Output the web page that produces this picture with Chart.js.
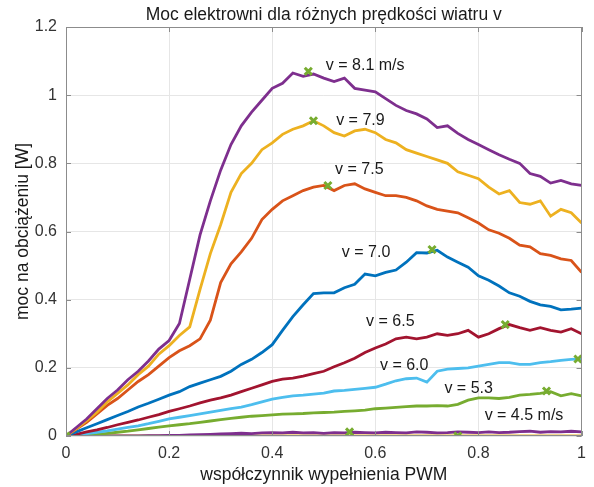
<!DOCTYPE html>
<html><head><meta charset="utf-8">
<script src="https://cdn.jsdelivr.net/npm/chart.js@4"></script>
<style>html,body{margin:0;padding:0;background:#fff}</style>
</head><body>
<canvas id="c" width="594" height="487"></canvas>
<script>
const pwm = [0,0.02,0.04,0.06,0.08,0.10,0.12,0.14,0.16,0.18,0.20,0.22,0.24,0.26,0.28,0.30,0.32,0.34,0.36,0.38,0.40,0.42,0.44,0.46,0.48,0.50,0.52,0.54,0.56,0.58,0.60,0.62,0.64,0.66,0.68,0.70,0.72,0.74,0.76,0.78,0.80,0.82,0.84,0.86,0.88,0.90,0.92,0.94,0.96,0.98,1.00];

const v81 = [0,0.025,0.05,0.08,0.11,0.135,0.165,0.19,0.22,0.255,0.28,0.33,0.46,0.59,0.69,0.78,0.855,0.91,0.95,0.985,1.02,1.035,1.065,1.055,1.062,1.05,1.04,1.05,1.02,1.015,1.01,0.99,0.97,0.955,0.945,0.93,0.905,0.91,0.888,0.87,0.855,0.84,0.825,0.812,0.80,0.77,0.762,0.742,0.75,0.74,0.735];
const v79 = [0,0.022,0.045,0.07,0.10,0.125,0.15,0.18,0.205,0.24,0.265,0.295,0.32,0.43,0.535,0.62,0.715,0.77,0.80,0.84,0.86,0.885,0.90,0.91,0.925,0.91,0.89,0.88,0.895,0.90,0.89,0.87,0.86,0.84,0.83,0.82,0.81,0.80,0.775,0.765,0.755,0.73,0.71,0.72,0.685,0.68,0.69,0.645,0.665,0.655,0.625];
const v75 = [0,0.02,0.04,0.065,0.09,0.11,0.135,0.16,0.18,0.205,0.23,0.25,0.265,0.285,0.34,0.45,0.505,0.54,0.58,0.635,0.665,0.69,0.705,0.72,0.73,0.735,0.72,0.735,0.74,0.725,0.715,0.705,0.705,0.70,0.69,0.675,0.665,0.66,0.655,0.64,0.625,0.605,0.595,0.58,0.56,0.555,0.535,0.53,0.52,0.515,0.48];
const v70 = [0,0.012,0.024,0.036,0.048,0.06,0.072,0.085,0.096,0.108,0.12,0.13,0.145,0.155,0.165,0.175,0.19,0.21,0.225,0.245,0.268,0.31,0.35,0.385,0.418,0.42,0.42,0.435,0.445,0.475,0.47,0.48,0.487,0.51,0.538,0.537,0.545,0.525,0.51,0.495,0.47,0.457,0.44,0.42,0.41,0.395,0.385,0.38,0.37,0.372,0.375];
const v65 = [0,0.005,0.012,0.018,0.025,0.033,0.04,0.047,0.055,0.063,0.072,0.08,0.088,0.097,0.105,0.112,0.12,0.13,0.14,0.15,0.16,0.167,0.17,0.176,0.183,0.19,0.203,0.215,0.228,0.245,0.258,0.27,0.285,0.29,0.285,0.29,0.30,0.295,0.30,0.31,0.29,0.30,0.315,0.327,0.318,0.31,0.318,0.31,0.305,0.315,0.30];
const v60 = [0,0.003,0.007,0.011,0.015,0.02,0.025,0.03,0.036,0.043,0.05,0.055,0.06,0.065,0.07,0.075,0.08,0.085,0.092,0.10,0.108,0.113,0.118,0.12,0.123,0.126,0.132,0.134,0.137,0.14,0.143,0.152,0.162,0.168,0.17,0.158,0.19,0.196,0.198,0.20,0.205,0.21,0.215,0.215,0.21,0.21,0.215,0.218,0.222,0.225,0.226];
const v53 = [0,0.001,0.003,0.005,0.008,0.011,0.014,0.018,0.022,0.026,0.03,0.033,0.036,0.04,0.044,0.048,0.052,0.055,0.058,0.06,0.062,0.064,0.065,0.066,0.068,0.069,0.07,0.072,0.074,0.076,0.08,0.082,0.084,0.086,0.088,0.088,0.089,0.088,0.093,0.105,0.112,0.112,0.11,0.113,0.12,0.122,0.125,0.13,0.118,0.124,0.118];
const v45 = [0,0,0,0,0,0,0,0,0.001,0.001,0.002,0.002,0.003,0.004,0.005,0.006,0.007,0.008,0.007,0.009,0.01,0.009,0.011,0.009,0.01,0.008,0.01,0.009,0.011,0.01,0.009,0.011,0.01,0.009,0.012,0.011,0.009,0.01,0.012,0.011,0.01,0.012,0.01,0.011,0.013,0.014,0.011,0.013,0.012,0.014,0.012];
const v40 = [0,0,0,0,0,0,0,0,0,0,0,0,0,0,0,0,0,0,0,0,0,0,0,0,0,0,0,0,0,0,0,0,0,0,0,0,0,0,0,0,0,0,0,0,0,0,0,0,0,0,0];

const maxX = [0,0.76,0.55,0.932,0.993,0.852,0.71,0.508,0.48,0.47];
const maxY = [0,0,0.012,0.132,0.226,0.327,0.547,0.735,0.925,1.07];

const labelText = ['v = 8.1 m/s','v = 7.9','v = 7.5','v = 7.0','v = 6.5','v = 6.0','v = 5.3','v = 4.5 m/s'];
const labelX = [0.504,0.524,0.522,0.535,0.582,0.609,0.734,0.812];
const labelY = [1.088,0.926,0.782,0.538,0.335,0.206,0.138,0.059];

const xTickLabels = ['0','0.2','0.4','0.6','0.8','1'];
const yTickLabels = ['0','0.2','0.4','0.6','0.8','1','1.2'];

const FONT = '"Liberation Sans", Arial, sans-serif';
const series = [
  {d:v40, c:'#EDB120'},
  {d:v45, c:'#7E2F8E'},
  {d:v53, c:'#77AC30'},
  {d:v60, c:'#4DBEEE'},
  {d:v65, c:'#A2142F'},
  {d:v70, c:'#0072BD'},
  {d:v75, c:'#D95319'},
  {d:v79, c:'#EDB120'},
  {d:v81, c:'#7E2F8E'}
];

const datasets = [{
  type:'scatter',
  data: maxX.map((x,i)=>({x:x,y:maxY[i]})),
  pointStyle:'crossRot', pointRadius:5, borderColor:'#77AC30', backgroundColor:'#77AC30', borderWidth:3, showLine:false
}];
series.slice().reverse().forEach(s=>{
  datasets.push({type:'line', data: pwm.map((x,i)=>({x:x,y:s.d[i]})), borderColor:s.c, borderWidth:2.8, pointRadius:0, tension:0, fill:false});
});

const frame = {
  id:'frame',
  afterDatasetsDraw(chart){
    const {ctx, chartArea:a, scales:{x,y}} = chart;
    ctx.save();
    ctx.strokeStyle='#8c8c8c'; ctx.lineWidth=1;
    ctx.strokeRect(Math.round(a.left)+0.5, Math.round(a.top)+0.5, Math.round(a.right-a.left)-1, Math.round(a.bottom-a.top)-1);
    ctx.beginPath();
    x.ticks.forEach(t=>{const p=Math.round(x.getPixelForValue(t.value))+0.5; ctx.moveTo(p,a.bottom); ctx.lineTo(p,a.bottom-5); ctx.moveTo(p,a.top); ctx.lineTo(p,a.top+5);});
    y.ticks.forEach(t=>{const p=Math.round(y.getPixelForValue(t.value))+0.5; ctx.moveTo(a.left,p); ctx.lineTo(a.left+5,p); ctx.moveTo(a.right,p); ctx.lineTo(a.right-5,p);});
    ctx.stroke();
    ctx.fillStyle='#1a1a1a'; ctx.font='16px '+FONT; ctx.textBaseline='middle'; ctx.textAlign='left';
    labelText.forEach((t,i)=>ctx.fillText(t, x.getPixelForValue(labelX[i]), y.getPixelForValue(labelY[i])));
    ctx.restore();
  }
};

new Chart(document.getElementById('c'), {
  type:'line',
  data:{datasets},
  plugins:[frame],
  options:{
    responsive:false, animation:false,
    layout:{padding:{top:0,right:5.5,left:0,bottom:0}},
    plugins:{
      legend:{display:false}, tooltip:{enabled:false},
      title:{display:true, fullSize:false, text:'Moc elektrowni dla różnych prędkości wiatru v', color:'#1a1a1a', font:{family:FONT,size:17.5,weight:'normal'}, padding:{top:5,bottom:1}}
    },
    scales:{
      x:{type:'linear', min:0, max:1,
        ticks:{stepSize:0.2, padding:8, color:'#333', font:{family:FONT,size:16}, callback:(v,i)=>xTickLabels[i]},
        grid:{color:'#e6e6e6', drawTicks:false}, border:{display:false},
        title:{display:true, text:'współczynnik wypełnienia PWM', color:'#1a1a1a', font:{family:FONT,size:17.5}, padding:{top:0,bottom:1}},
        afterFit(s){s.height=51;}
      },
      y:{type:'linear', min:0, max:1.2,
        ticks:{stepSize:0.2, padding:9, color:'#333', font:{family:FONT,size:16}, callback:(v,i)=>yTickLabels[i]},
        grid:{color:'#e6e6e6', drawTicks:false}, border:{display:false},
        title:{display:true, text:'moc na obciążeniu [W]', color:'#1a1a1a', font:{family:FONT,size:17.5}, padding:{top:13,bottom:0}},
        afterFit(s){s.width=66;}
      }
    }
  }
});
</script>
</body></html>
